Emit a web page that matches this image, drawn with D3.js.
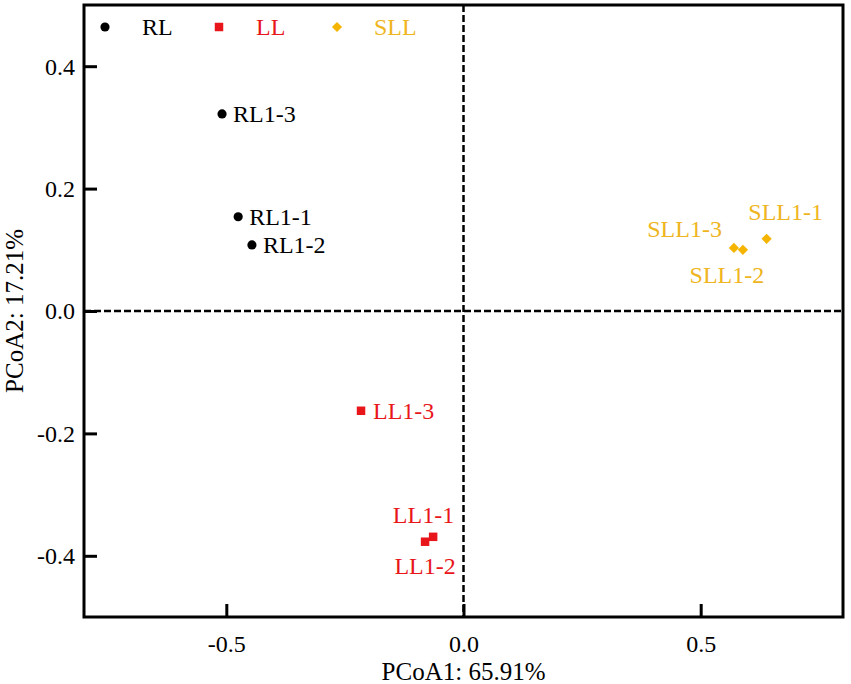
<!DOCTYPE html>
<html>
<head>
<meta charset="utf-8">
<script src="https://cdn.jsdelivr.net/npm/d3@7"></script>
<style>
    body { margin: 0; background: #fff; }
    text { font-family: "Liberation Serif", "Times New Roman", serif; }
</style>
</head>
<body>
<svg id="chart"></svg>
<script>
// groups shown in the legend
const groups = ["RL", "LL", "SLL"];
const groupColors = ["#000000", "#e8161b", "#f4b400"];

// samples (PCoA1, PCoA2)
const sampleNames = ["RL1-1", "RL1-2", "RL1-3", "LL1-1", "LL1-2", "LL1-3", "SLL1-1", "SLL1-2", "SLL1-3"];
const sampleGroups = ["RL", "RL", "RL", "LL", "LL", "LL", "SLL", "SLL", "SLL"];
const pcoa1 = [-0.475, -0.446, -0.509, -0.064, -0.081, -0.216, 0.639, 0.589, 0.570];
const pcoa2 = [0.154, 0.108, 0.322, -0.369, -0.377, -0.163, 0.118, 0.100, 0.103];

const xTicks = [-0.5, 0.0, 0.5];
const yTicks = [-0.4, -0.2, 0.0, 0.2, 0.4];
const xTitle = "PCoA1: 65.91%";
const yTitle = "PCoA2: 17.21%";

const width = 851;
const height = 684;
const margin = { top: 5, right: 8, bottom: 67, left: 84 };

const svg = d3.select("#chart")
    .attr("width", width)
    .attr("height", height);

const x = d3.scaleLinear()
    .domain([-0.8, 0.8])
    .range([margin.left, width - margin.right]);

const y = d3.scaleLinear()
    .domain([-0.5, 0.5])
    .range([height - margin.bottom, margin.top]);

const color = d3.scaleOrdinal().domain(groups).range(groupColors);
const labelColor = d3.scaleOrdinal().domain(groups).range(["#000000", "#e8161b", "#efb520"]);
// diamond = square turned 45 degrees
const symbol = d3.scaleOrdinal().domain(groups).range([d3.symbolCircle, d3.symbolSquare, d3.symbolSquare]);
const symbolSize = { RL: 66, LL: 72, SLL: 52 };
const symbolTurn = { RL: 0, LL: 0, SLL: 45 };

// zero lines
svg.append("line")
    .attr("x1", x(0)).attr("x2", x(0))
    .attr("y1", y(0.5)).attr("y2", y(-0.5))
    .attr("stroke", "#000").attr("stroke-width", 2.5)
    .attr("stroke-dasharray", "7,3");
svg.append("line")
    .attr("x1", x(-0.8)).attr("x2", x(0.8))
    .attr("y1", y(0)).attr("y2", y(0))
    .attr("stroke", "#000").attr("stroke-width", 2.5)
    .attr("stroke-dasharray", "7,3");

// axes, ticks pointing inward
const fmt = d => d.toFixed(1);

const xAxis = svg.append("g")
    .attr("transform", `translate(0,${y(-0.5)})`)
    .call(d3.axisBottom(x).tickValues(xTicks).tickFormat(fmt).tickSize(-13).tickPadding(18));
const yAxis = svg.append("g")
    .attr("transform", `translate(${x(-0.8)},0)`)
    .call(d3.axisLeft(y).tickValues(yTicks).tickFormat(fmt).tickSize(-13).tickPadding(9));

[xAxis, yAxis].forEach(a => {
    a.select(".domain").remove();
    a.selectAll(".tick line").attr("stroke", "#000").attr("stroke-width", 3);
    a.selectAll(".tick text")
        .attr("fill", "#000")
        .style("font-size", "24px")
        .style("font-family", "'Liberation Serif', serif");
});
yAxis.selectAll(".tick text").attr("dy", "0.33em");

// frame
svg.append("rect")
    .attr("x", x(-0.8)).attr("y", y(0.5))
    .attr("width", x(0.8) - x(-0.8))
    .attr("height", y(-0.5) - y(0.5))
    .attr("fill", "none")
    .attr("stroke", "#000")
    .attr("stroke-width", 3);

// axis titles
svg.append("text")
    .attr("x", x(0)).attr("y", 680)
    .attr("text-anchor", "middle")
    .style("font-size", "25px")
    .text(xTitle);
svg.append("text")
    .attr("transform", `translate(23,${y(0)}) rotate(-90)`)
    .attr("text-anchor", "middle")
    .style("font-size", "25px")
    .text(yTitle);

// points
const samples = sampleNames.map((n, i) => ({ name: n, group: sampleGroups[i], x: pcoa1[i], y: pcoa2[i] }));

svg.selectAll(".pt")
    .data(samples)
    .enter()
    .append("path")
    .attr("class", "pt")
    .attr("transform", d => `translate(${x(d.x)},${y(d.y)}) rotate(${symbolTurn[d.group]})`)
    .attr("d", d => d3.symbol().type(symbol(d.group)).size(symbolSize[d.group])())
    .attr("fill", d => color(d.group));

// label placement: [dx, dy, anchor]
const labelPlace = {
    "RL1-1": [11, 8, "start"],
    "RL1-2": [11, 8, "start"],
    "RL1-3": [11, 8, "start"],
    "LL1-3": [12, 8, "start"],
    "LL1-1": [21, -14, "end"],
    "LL1-2": [0, 32, "middle"],
    "SLL1-1": [19, -19, "middle"],
    "SLL1-2": [-16, 33, "middle"],
    "SLL1-3": [-12, -11, "end"]
};

svg.selectAll(".lbl")
    .data(samples)
    .enter()
    .append("text")
    .attr("class", "lbl")
    .attr("x", d => x(d.x) + labelPlace[d.name][0])
    .attr("y", d => y(d.y) + labelPlace[d.name][1])
    .attr("text-anchor", d => labelPlace[d.name][2])
    .attr("fill", d => labelColor(d.group))
    .style("font-size", "24px")
    .text(d => d.name);

// legend
const legendX = [105, 219, 337];
const legend = svg.selectAll(".legend")
    .data(groups)
    .enter()
    .append("g")
    .attr("class", "legend")
    .attr("transform", (d, i) => `translate(${legendX[i]},27)`);

legend.append("path")
    .attr("transform", d => `rotate(${symbolTurn[d]})`)
    .attr("d", d => d3.symbol().type(symbol(d)).size(symbolSize[d])())
    .attr("fill", d => color(d));
legend.append("text")
    .attr("x", 37)
    .attr("y", 8)
    .attr("fill", d => labelColor(d))
    .style("font-size", "24px")
    .text(d => d);
</script>
</body>
</html>
